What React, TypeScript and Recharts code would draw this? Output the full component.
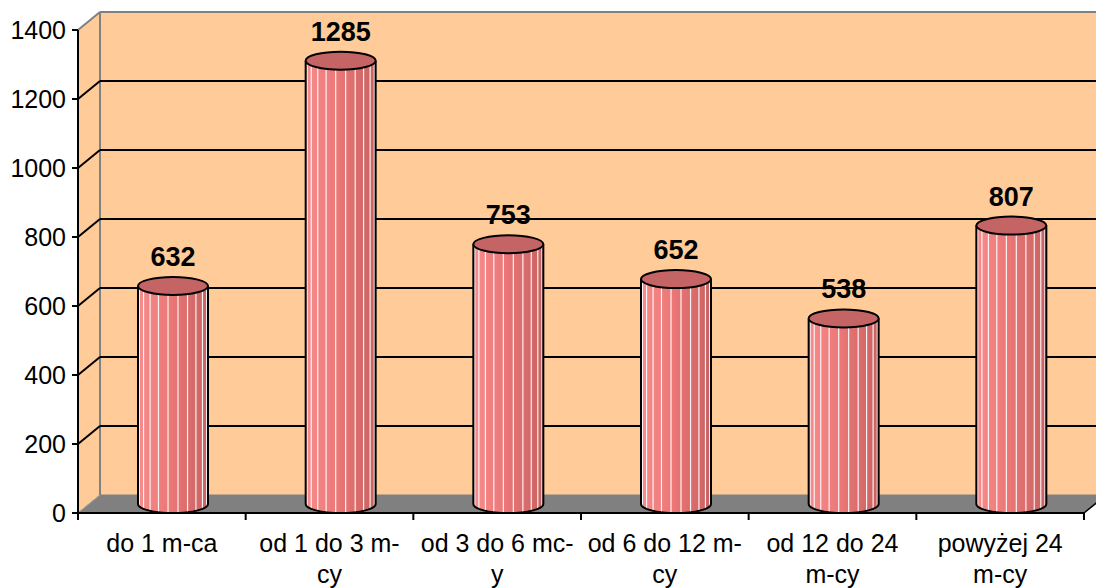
import { BarChart, Bar, XAxis, YAxis, CartesianGrid, ReferenceArea, LabelList } from 'recharts';

const categories = ['do 1 m-ca', 'od 1 do 3 m-cy', 'od 3 do 6 mc-y', 'od 6 do 12 m-cy', 'od 12 do 24 m-cy', 'powyżej 24 m-cy'];
const tickLines = [['do 1 m-ca'], ['od 1 do 3 m-', 'cy'], ['od 3 do 6 mc-', 'y'], ['od 6 do 12 m-', 'cy'], ['od 12 do 24', 'm-cy'], ['powyżej 24', 'm-cy']];
const values = [632, 1285, 753, 652, 538, 807];
const yTicks = [0, 200, 400, 600, 800, 1000, 1200, 1400];

const data = categories.map((c, i) => ({ name: c, value: values[i] }));

// przesuniecie glebokosci 3D
const DX = 22;
const DY = -18;
const FONT = '"Liberation Sans", Arial, sans-serif';
const WALL = '#FFCC99';
const EDGE = '#808080';

const Walls = (props: any) => {
    const { x, y, width, height } = props;
    const b = y + height;
    return (
        <g>
            <rect x={x + DX} y={y + DY} width={width + 40} height={height} fill={WALL} />
            <polygon points={`${x},${y} ${x + DX},${y + DY} ${x + DX},${b + DY} ${x},${b}`} fill={WALL} />
            <polygon points={`${x},${b} ${x + width},${b} ${x + width + DX},${b + DY} ${x + DX},${b + DY}`} fill={EDGE} stroke={EDGE} strokeWidth={1} />
            <line x1={x + DX} y1={y + DY} x2={x + width + 60} y2={y + DY} stroke={EDGE} strokeWidth={2} />
            <line x1={x + DX} y1={y + DY} x2={x + DX} y2={b + DY} stroke={EDGE} strokeWidth={2} />
            <line x1={x} y1={y} x2={x + DX} y2={y + DY} stroke={EDGE} strokeWidth={2} />
            <line x1={x} y1={b} x2={x + DX} y2={b + DY} stroke="#a0a0a0" strokeWidth={1} />
            <line x1={x + width} y1={b} x2={x + width + DX} y2={b + DY} stroke="#000" strokeWidth={1.5} />
        </g>
    );
};

const GridLine = (props: any) => {
    const { x1, y1, x2, y, height } = props;
    if (Math.abs(y1 - y) < 1 || Math.abs(y1 - (y + height)) < 1) return <g />;
    return (
        <g>
            <line x1={x1} y1={y1} x2={x1 + DX} y2={y1 + DY} stroke="#000" strokeWidth={2} />
            <line x1={x1 + DX} y1={y1 + DY} x2={x2 + DX + 40} y2={y1 + DY} stroke="#000" strokeWidth={2} />
        </g>
    );
};

const Cylinder = (props: any) => {
    const { x, y, width, height, index } = props;
    if (!width || height == null) return <g />;
    const rx = width / 2;
    const ry = 9;
    const cx = x + rx + DX / 2;
    const left = cx - rx;
    const right = cx + rx;
    const top = y + DY / 2;
    const bottom = y + height + DY / 2;
    const stripes = [];
    for (let k = 1; k <= 10; k++) {
        const t = -Math.PI / 2 + (k * Math.PI) / 11;
        const sx = cx + rx * Math.sin(t);
        stripes.push(<line key={k} x1={sx} y1={top} x2={sx} y2={bottom + ry * Math.cos(t)} stroke="#fff" strokeWidth={1.2} opacity={0.9} />);
    }
    const gid = `cyl-${index}`;
    return (
        <g>
            <defs>
                <linearGradient id={gid} x1="0" y1="0" x2="1" y2="0">
                    <stop offset="0%" stopColor="#F78C8C" />
                    <stop offset="45%" stopColor="#EC7777" />
                    <stop offset="100%" stopColor="#C86262" />
                </linearGradient>
            </defs>
            <path
                d={`M${left},${top} L${left},${bottom} A${rx},${ry} 0 0 0 ${right},${bottom} L${right},${top} Z`}
                fill={`url(#${gid})`}
            />
            {stripes}
            <path
                d={`M${left},${top} L${left},${bottom} A${rx},${ry} 0 0 0 ${right},${bottom} L${right},${top}`}
                fill="none"
                stroke="#000"
                strokeWidth={2}
            />
            <ellipse cx={cx} cy={top} rx={rx} ry={ry} fill="#C46464" stroke="#000" strokeWidth={2} />
        </g>
    );
};

const ValueLabel = (props: any) => {
    const { x, y, width, value } = props;
    return (
        <text x={x + width / 2 + DX / 2} y={y - 29} textAnchor="middle" fontFamily={FONT} fontWeight="bold" fontSize={27} fill="#000">
            {value}
        </text>
    );
};

const CategoryTick = (props: any) => {
    const { x, y, payload, index } = props;
    const half = payload && payload.offset ? payload.offset : 1006 / 12;
    const lines = tickLines[index] || [String(payload.value)];
    return (
        <g>
            <line x1={x - half} y1={y} x2={x - half} y2={y + 7} stroke="#000" strokeWidth={2} />
            {index === categories.length - 1 && (
                <line x1={x + half} y1={y} x2={x + half} y2={y + 7} stroke="#000" strokeWidth={2} />
            )}
            {lines.map((l, i) => (
                <text key={i} x={x} y={y + 39 + i * 31} textAnchor="middle" fontFamily={FONT} fontSize={25} fill="#000">
                    {l}
                </text>
            ))}
        </g>
    );
};

export default function App() {
    return (
        <div style={{ position: 'fixed', left: 0, top: 0, background: '#fff' }}>
            <BarChart width={1096} height={588} data={data} margin={{ top: 30, right: 12, left: 0, bottom: 0 }} barSize={70}>
                <ReferenceArea y1={0} y2={1400} shape={Walls} ifOverflow="visible" zIndex={-200} />
                <CartesianGrid vertical={false} horizontal={GridLine} />
                <XAxis
                    dataKey="name"
                    height={75}
                    tickLine={false}
                    tickSize={0}
                    tickMargin={0}
                    interval={0}
                    axisLine={{ stroke: '#000', strokeWidth: 2 }}
                    tick={CategoryTick}
                />
                <YAxis
                    width={78}
                    domain={[0, 1400]}
                    ticks={yTicks}
                    interval={0}
                    tickSize={6}
                    tickMargin={6}
                    axisLine={{ stroke: '#000', strokeWidth: 2 }}
                    tickLine={{ stroke: '#000', strokeWidth: 2 }}
                    tick={{ fill: '#000', fontSize: 25, fontFamily: FONT }}
                />
                <Bar dataKey="value" shape={Cylinder} isAnimationActive={false}>
                    <LabelList dataKey="value" content={ValueLabel} />
                </Bar>
            </BarChart>
        </div>
    );
}
